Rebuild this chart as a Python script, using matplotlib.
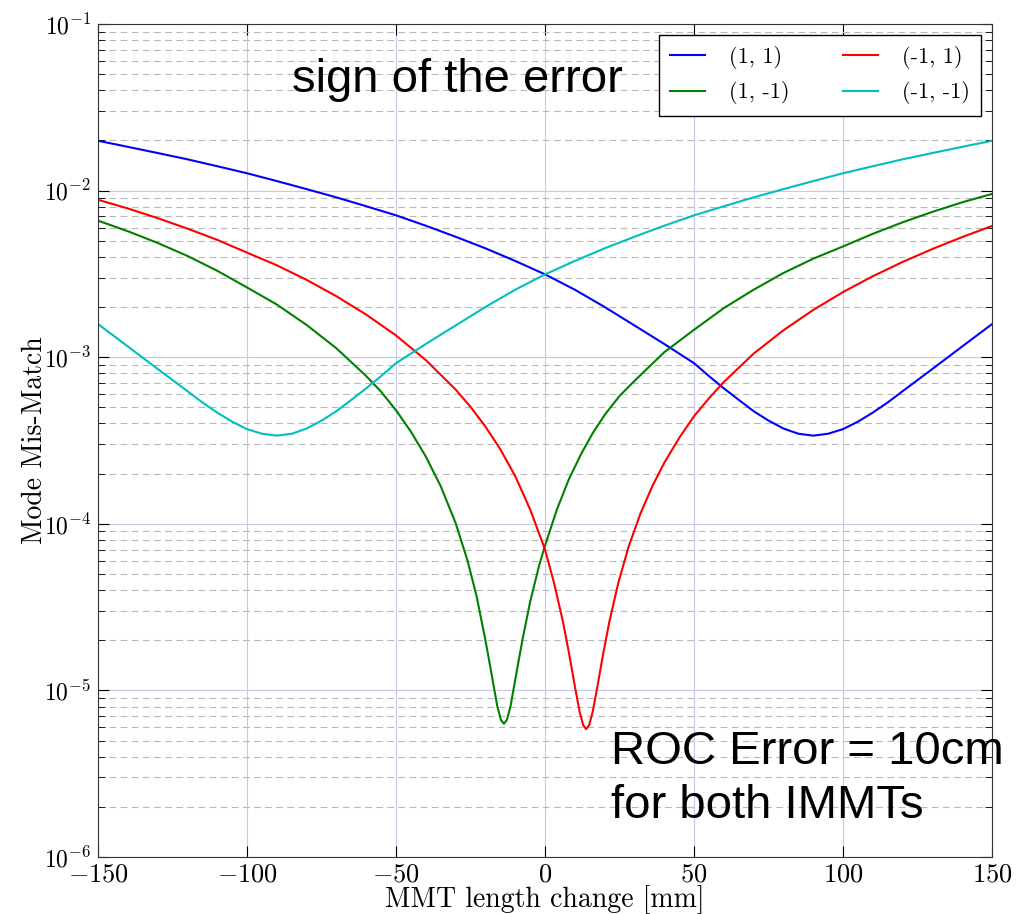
"""
Mode mismatch vs MMT length change for the four ROC error sign combinations.
Writes out.png.
"""

import matplotlib
matplotlib.use("Agg")
import matplotlib.pyplot as plt
from matplotlib.ticker import LogLocator, NullFormatter, MultipleLocator

plt.rcParams["font.family"] = ["cmr10"]
plt.rcParams["mathtext.fontset"] = "cm"
plt.rcParams["axes.formatter.use_mathtext"] = True

# (1, 1)
X_PP = [-150, -140, -130, -120, -110, -100, -90, -80, -70, -60, -50, -40,
        -30, -20, -10, 0, 10, 20, 30, 40, 50, 55, 60, 65, 70, 75, 80, 85,
        90, 95, 100, 105, 110, 115, 120, 130, 140, 150]
Y_PP = [1.99e-2, 1.83e-2, 1.68e-2, 1.54e-2, 1.40e-2, 1.27e-2, 1.14e-2,
        1.02e-2, 9.1e-3, 8.05e-3, 7.1e-3, 6.15e-3, 5.28e-3, 4.5e-3, 3.78e-3,
        3.14e-3, 2.54e-3, 2.0e-3, 1.55e-3, 1.2e-3, 9.2e-4, 7.7e-4, 6.5e-4,
        5.54e-4, 4.74e-4, 4.16e-4, 3.73e-4, 3.47e-4, 3.38e-4, 3.47e-4,
        3.7e-4, 4.1e-4, 4.65e-4, 5.35e-4, 6.25e-4, 8.5e-4, 1.16e-3, 1.58e-3]

# (1, -1)
X_PM = [-150, -140, -130, -120, -110, -100, -90, -80, -70, -60, -55, -50,
        -45, -40, -35, -30, -26, -23, -20, -18, -16, -14.8, -13.8, -12.8,
        -11.6, -9.6, -7.6, -5, -2, 0, 4, 8, 12, 16, 20, 25, 30, 40, 50, 60,
        70, 80, 90, 100, 110, 120, 130, 140, 150]
Y_PM = [6.6e-3, 5.7e-3, 4.85e-3, 4.05e-3, 3.3e-3, 2.62e-3, 2.07e-3,
        1.56e-3, 1.13e-3, 7.7e-4, 6.2e-4, 4.8e-4, 3.57e-4, 2.53e-4, 1.68e-4,
        1.01e-4, 6.0e-5, 3.7e-5, 2.0e-5, 1.27e-5, 8.0e-6, 6.65e-6, 6.3e-6,
        6.65e-6, 8.0e-6, 1.27e-5, 2.0e-5, 3.4e-5, 5.6e-5, 7.4e-5, 1.22e-4,
        1.85e-4, 2.6e-4, 3.5e-4, 4.5e-4, 5.85e-4, 7.2e-4, 1.07e-3, 1.46e-3,
        1.97e-3, 2.54e-3, 3.2e-3, 3.9e-3, 4.62e-3, 5.5e-3, 6.45e-3, 7.45e-3,
        8.5e-3, 9.55e-3]

# (-1, 1)
X_MP = [-150, -140, -130, -120, -110, -100, -90, -80, -70, -60, -50, -40,
        -30, -25, -20, -15, -10, -5, 0, 3, 6, 8, 10, 11.6, 12.8, 13.8, 14.8,
        16, 17.6, 19.6, 21.6, 24.6, 28, 32, 36, 40, 45, 50, 55, 60, 70, 80,
        90, 100, 110, 120, 130, 140, 150]
Y_MP = [8.8e-3, 7.81e-3, 6.83e-3, 5.91e-3, 5.06e-3, 4.24e-3, 3.56e-3,
        2.91e-3, 2.32e-3, 1.8e-3, 1.35e-3, 9.6e-4, 6.39e-4, 5.03e-4, 3.83e-4,
        2.8e-4, 1.93e-4, 1.22e-4, 7.0e-5, 4.43e-5, 2.59e-5, 1.69e-5, 1.06e-5,
        7.45e-6, 6.18e-6, 5.85e-6, 6.18e-6, 7.45e-6, 1.06e-5, 1.69e-5,
        2.59e-5, 4.43e-5, 7.24e-5, 1.15e-4, 1.68e-4, 2.32e-4, 3.27e-4,
        4.42e-4, 5.66e-4, 7.1e-4, 1.05e-3, 1.45e-3, 1.92e-3, 2.46e-3,
        3.06e-3, 3.73e-3, 4.46e-3, 5.26e-3, 6.13e-3]

# (-1, -1)
X_MM = [-150, -140, -130, -120, -115, -110, -105, -100, -95, -90, -85, -80,
        -75, -70, -65, -60, -55, -50, -40, -30, -20, -10, 0, 10, 20, 30, 40,
        50, 60, 70, 80, 90, 100, 110, 120, 130, 140, 150]
Y_MM = [1.58e-3, 1.16e-3, 8.5e-4, 6.25e-4, 5.35e-4, 4.65e-4, 4.1e-4,
        3.7e-4, 3.47e-4, 3.38e-4, 3.47e-4, 3.73e-4, 4.16e-4, 4.74e-4,
        5.54e-4, 6.5e-4, 7.7e-4, 9.2e-4, 1.2e-3, 1.55e-3, 2.0e-3, 2.54e-3,
        3.14e-3, 3.78e-3, 4.5e-3, 5.28e-3, 6.15e-3, 7.1e-3, 8.05e-3, 9.1e-3,
        1.02e-2, 1.14e-2, 1.27e-2, 1.40e-2, 1.54e-2, 1.68e-2, 1.83e-2,
        1.99e-2]


def main():
    fig = plt.figure(figsize=(10.22, 9.14), dpi=100)
    ax = fig.add_axes([0.0959, 0.0624, 0.8748, 0.9114])

    ax.semilogy(X_PP, Y_PP, color="b", lw=1.5, label="(1, 1)")
    ax.semilogy(X_PM, Y_PM, color="g", lw=1.5, label="(1, -1)")
    ax.semilogy(X_MP, Y_MP, color="r", lw=1.5, label="(-1, 1)")
    ax.semilogy(X_MM, Y_MM, color="c", lw=1.5, label="(-1, -1)")

    ax.set_xlim(-150, 150)
    ax.set_ylim(1e-6, 1e-1)
    ax.xaxis.set_major_locator(MultipleLocator(50))
    ax.yaxis.set_major_locator(LogLocator(base=10, numticks=10))
    ax.yaxis.set_minor_locator(LogLocator(base=10, subs=range(2, 10), numticks=20))
    ax.yaxis.set_minor_formatter(NullFormatter())

    ax.grid(True, which="major", color="#c8c8ec", ls="-", lw=0.8)
    ax.grid(True, which="minor", axis="y", color="#b8b8b8", ls="--", lw=0.8,
            dashes=(6, 4))
    ax.set_axisbelow(True)

    ax.tick_params(which="both", direction="in", top=True, right=True)
    ax.tick_params(axis="x", labelsize=19, pad=4)
    ax.tick_params(axis="y", labelsize=17, pad=5)
    ax.tick_params(which="major", length=8)
    ax.tick_params(which="minor", length=5)
    for sp in ax.spines.values():
        sp.set_color("#333333")

    ax.set_xlabel("MMT length change [mm]", fontsize=20, labelpad=-1)
    ax.set_ylabel("Mode Mis-Match", fontsize=20, labelpad=-3)

    leg = ax.legend(loc="upper right", ncol=2, fontsize=16, fancybox=False,
                    edgecolor="black", framealpha=1, handlelength=1.55,
                    handletextpad=1.1, columnspacing=2.4, labelspacing=0.55,
                    borderpad=0.5)
    leg.get_frame().set_linewidth(1.0)

    sans = ["Liberation Sans", "DejaVu Sans"]
    ax.text(-85, 3.9e-2, "sign of the error", fontsize=34, family=sans,
            va="baseline", ha="left")
    ax.text(22.1, 3.63e-6, "ROC Error = 10cm", fontsize=34, family=sans,
            va="baseline", ha="left")
    ax.text(22.1, 1.72e-6, "for both IMMTs", fontsize=34, family=sans,
            va="baseline", ha="left")

    fig.savefig("out.png", dpi=100)
    plt.close(fig)


if __name__ == "__main__":
    main()
